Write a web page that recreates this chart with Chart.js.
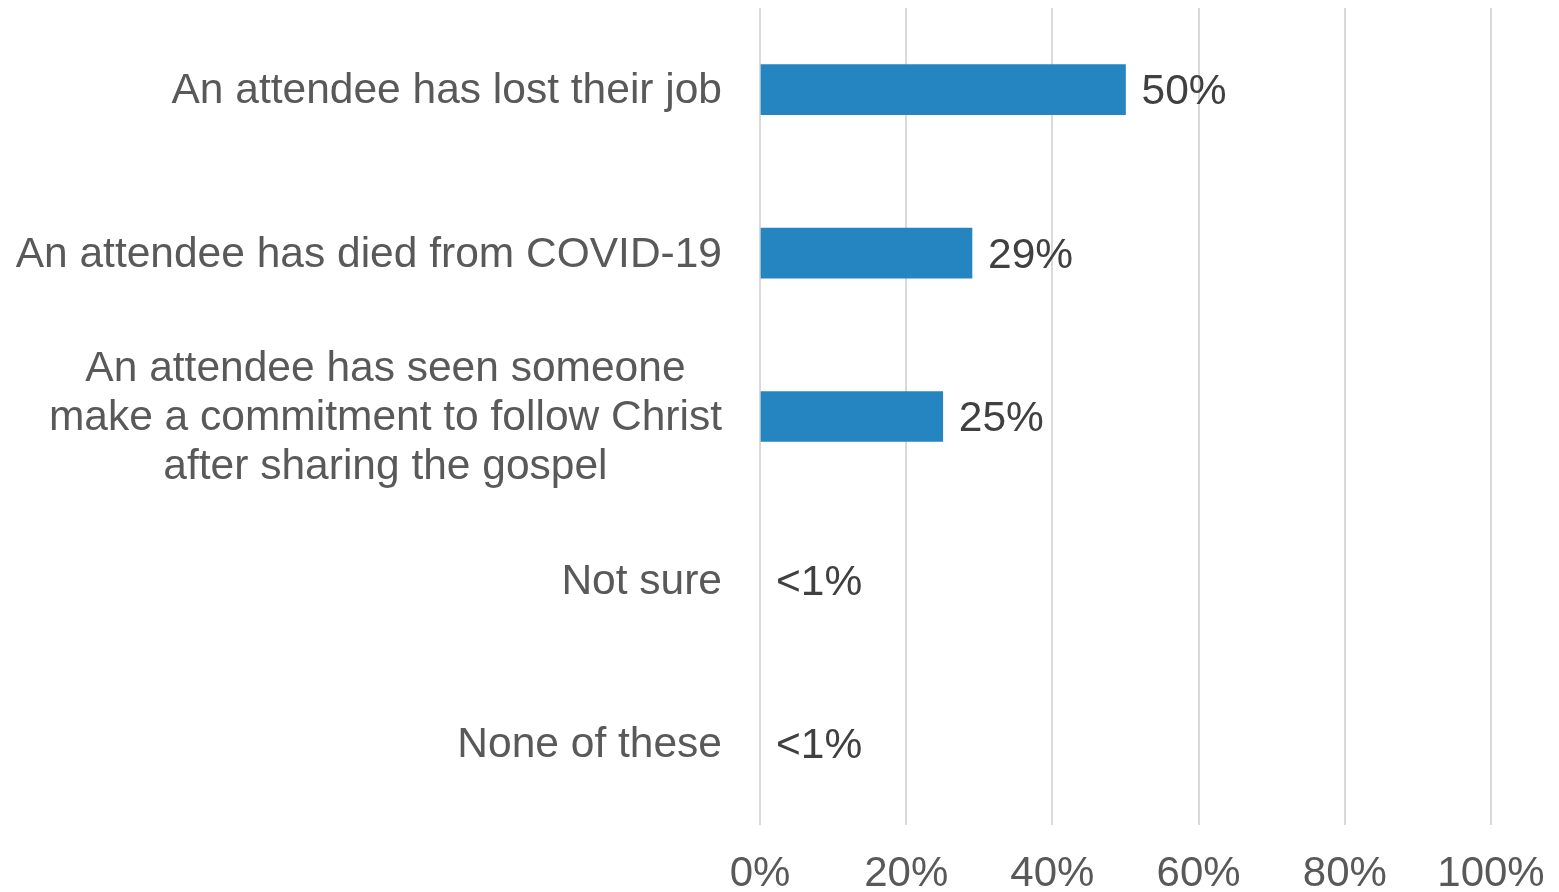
<!DOCTYPE html>
<html>
<head>
<meta charset="utf-8">
<style>
html, body { margin: 0; padding: 0; background: #fff; }
#wrap { width: 1559px; height: 892px; position: relative; }
</style>
</head>
<body>
<div id="wrap"><canvas id="myChart"></canvas></div>
<script src="https://cdn.jsdelivr.net/npm/chart.js@4"></script>
<script>
var categories = [
	["An attendee has lost their job"],
	["An attendee has died from COVID-19"],
	["An attendee has seen someone", "make a commitment to follow Christ", "after sharing the gospel"],
	["Not sure"],
	["None of these"]
];
var values = [50, 29, 25, 0, 0];
var valueLabels = ["50%", "29%", "25%", "<1%", "<1%"];
var xTicks = [0, 20, 40, 60, 80, 100];

var FONT = "'Liberation Sans', Arial, sans-serif";

// category labels: block right-aligned to the axis, lines centred inside the block
var categoryLabels = {
	id: "categoryLabels",
	afterDraw: function(chart){
		var ctx = chart.ctx;
		var y = chart.scales.y;
		var right = chart.chartArea.left - 38;
		ctx.save();
		ctx.font = "42.5px " + FONT;
		ctx.fillStyle = "#595959";
		ctx.textAlign = "center";
		ctx.textBaseline = "middle";
		categories.forEach(function(lines, i){
			var maxW = 0;
			lines.forEach(function(l){ maxW = Math.max(maxW, ctx.measureText(l).width); });
			var cx = right - maxW / 2;
			var cy = y.getPixelForValue(i) + 2;
			lines.forEach(function(l, j){
				ctx.fillText(l, cx, cy + (j - (lines.length - 1) / 2) * 49);
			});
		});
		ctx.restore();
	}
};

// value labels at the end of each bar
var valueText = {
	id: "valueText",
	afterDatasetsDraw: function(chart){
		var ctx = chart.ctx;
		var meta = chart.getDatasetMeta(0);
		ctx.save();
		ctx.font = "42.5px " + FONT;
		ctx.fillStyle = "#404040";
		ctx.textAlign = "left";
		ctx.textBaseline = "middle";
		meta.data.forEach(function(bar, i){
			ctx.fillText(valueLabels[i], bar.x + 16, bar.y + 3);
		});
		ctx.restore();
	}
};

var ctx = document.getElementById("myChart").getContext("2d");
var myChart = new Chart(ctx, {
	type: "bar",
	data: {
		labels: categories,
		datasets: [{
			data: values,
			backgroundColor: function(c){ return c.raw > 0 ? "#2585C0" : "rgba(0,0,0,0)"; },
			barThickness: 50
		}]
	},
	options: {
		indexAxis: "y",
		responsive: true,
		maintainAspectRatio: false,
		animation: false,
		layout: { padding: { top: 8, right: 68, left: 0, bottom: 0 } },
		plugins: { legend: { display: false }, tooltip: { enabled: false } },
		scales: {
			x: {
				min: 0,
				max: 100,
				afterBuildTicks: function(scale){
					scale.ticks = xTicks.map(function(v){ return { value: v }; });
				},
				afterFit: function(scale){
					scale.height = 67;
					scale.paddingLeft = 0;
					scale.paddingRight = 0;
				},
				ticks: {
					callback: function(v){ return v + "%"; },
					font: { family: FONT, size: 42 },
					color: "#595959",
					padding: 24,
					maxRotation: 0
				},
				grid: { color: "#d9d9d9", lineWidth: 2, drawTicks: false },
				border: { display: false }
			},
			y: {
				afterFit: function(scale){ scale.width = 760; },
				ticks: { display: false },
				grid: { display: false },
				border: { display: false }
			}
		}
	},
	plugins: [categoryLabels, valueText]
});
</script>
</body>
</html>
